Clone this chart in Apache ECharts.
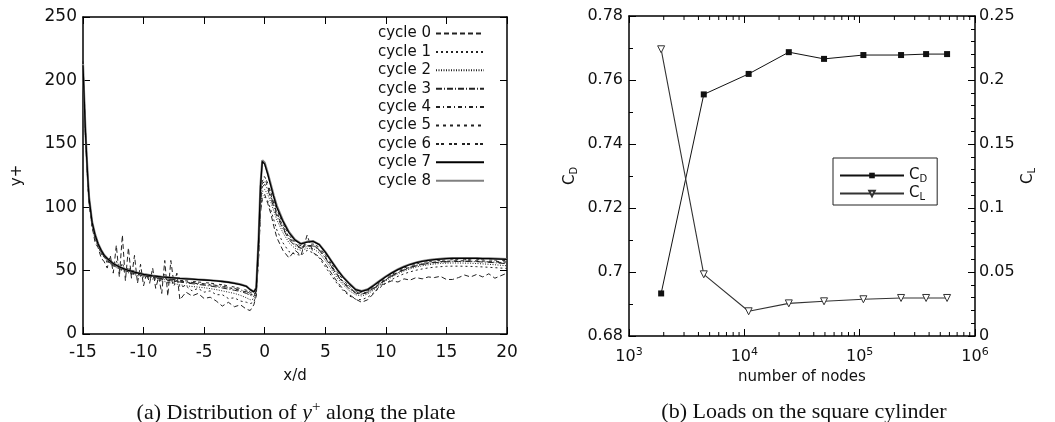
<!DOCTYPE html>
<html><head><meta charset="utf-8">
<script src="https://cdn.jsdelivr.net/npm/echarts@6/dist/echarts.min.js"></script>
<style>html,body{margin:0;padding:0;background:#fff}#c{width:1055px;height:422px}</style>
</head><body><div id="c"></div>
<script>
// ---------- left panel: y+ along the plate ----------
const X_D = [-15, -14.9, -14.8, -14.7, -14.6, -14.5,
  -14.25, -14, -13.75, -13.5, -13.25, -13, -12.75, -12.5, -12.25, -12, -11.75, -11.5, -11.25, -11, -10.75, -10.5, -10.25, -10, -9.75, -9.5, -9.25, -9, -8.75, -8.5, -8.25, -8, -7.75, -7.5, -7.25, -7,
  -6.5, -6, -5.5, -5, -4.5, -4, -3.5, -3, -2.5, -2, -1.5,
  -1.2, -0.9, -0.7, -0.5, -0.35, -0.2, 0,
  0.25, 0.5, 0.75, 1,
  1.5, 2, 2.5, 3, 3.5, 4, 4.5, 5, 5.5, 6, 6.5, 7, 7.5, 8, 8.5, 9, 9.5, 10, 10.5, 11, 11.5, 12, 12.5, 13, 13.5, 14, 14.5, 15, 15.5, 16, 16.5, 17, 17.5, 18, 18.5, 19, 19.5, 20];

const CYCLE_NAMES = ['cycle 0', 'cycle 1', 'cycle 2', 'cycle 3', 'cycle 4', 'cycle 5', 'cycle 6', 'cycle 7', 'cycle 8'];

const CYCLE_0 = [215, 190, 165, 142, 122, 104,
  85, 72, 68, 60, 57, 52, 62, 48, 70, 45, 78, 42, 68, 44, 62, 40, 55, 38, 48, 40, 52, 36, 45, 32, 58, 30, 58, 40, 48, 27,
  33, 30, 32, 28, 29, 26, 22, 25, 21.5, 23, 19.5,
  18.5, 23, 30, 60, 95, 108, 110,
  103, 95, 85, 76,
  66, 60, 66, 62, 78, 64, 61, 55, 48, 41, 35, 31, 27.5, 25, 27, 32, 38, 40, 42, 41, 43.5, 42.5, 44.5, 43.5, 45, 44.5, 45.5, 43, 43, 44.5, 46.5, 45, 47, 45, 47.5, 44, 46, 48];
const CYCLE_1 = [208, 181, 156, 136, 118, 103,
  85, 75, 70, 63, 62, 56, 60, 53, 58, 50, 56, 49, 53, 47, 51, 46, 49, 45, 47, 44, 46, 43, 45, 41, 47, 40, 44, 38, 42, 37,
  38, 34, 36, 33, 34, 31, 31, 28, 28.5, 26, 25,
  24, 25, 31, 62, 98, 106, 108,
  105, 98, 90, 82,
  72, 65, 63, 62, 66, 64, 60, 53, 46, 39.5, 34, 30, 27.5, 27, 29, 32.5, 36.5, 40, 43, 45.5, 47.5, 49, 50.3, 51.3, 52.1, 52.7, 53.1, 53.4, 53.5, 53.5, 53.4, 53.3, 53.1, 52.9, 52.6, 52.3, 52, 51.7];
const CYCLE_2 = [209, 182, 157, 137, 119, 104,
  86, 76, 69, 64, 60.5, 57.5, 55.5, 53.8, 52.4, 51.2, 50.1, 49.1, 48.3, 47.5, 46.8, 46.1, 45.5, 44.9, 44.3, 43.8, 43.3, 42.8, 42.3, 41.8, 41.3, 40.8, 40.3, 39.8, 39.3, 38.8,
  38, 37.5, 37, 36.5, 35.8, 35, 34, 33, 32, 30.5, 28.5,
  27, 27.5, 32, 66, 102, 112, 114,
  110, 104, 97, 90,
  80, 72, 67.5, 66, 67.5, 67.5, 64, 58, 51, 44, 38.5, 34, 31, 30, 31.5, 34.8, 38.5, 42, 45, 47.5, 49.7, 51.4, 52.8, 53.8, 54.6, 55.2, 55.6, 55.9, 56, 56, 55.9, 55.8, 55.6, 55.3, 55, 54.6, 54.2, 53.8];
const CYCLE_3 = [210, 183, 158, 138, 120, 105,
  86, 76, 70, 65, 61, 60, 56, 56, 53, 53.5, 51, 51.5, 49.5, 49.5, 48, 48, 46.5, 46.5, 45.5, 45.5, 44.5, 44.5, 43.6, 43.5, 42.8, 42.5, 42, 41.7, 41.3, 41,
  40.3, 39.7, 39.1, 38.5, 37.8, 37.1, 36.3, 35.4, 34.5, 33.5, 32,
  30.5, 29.5, 33.5, 68, 104, 116, 118,
  114, 107, 100, 93,
  83, 74.5, 69.5, 67.5, 69, 69.5, 66, 60, 53, 46, 40, 35.5, 32.3, 31.2, 32.7, 35.8, 39.3, 42.7, 45.7, 48.3, 50.5, 52.3, 53.7, 54.8, 55.6, 56.2, 56.6, 56.9, 57.1, 57.2, 57.2, 57.1, 57, 56.8, 56.5, 56.2, 55.8, 55.4];
const CYCLE_4 = [210, 183, 158, 138, 120, 105,
  87, 77, 70, 64, 62, 57, 58, 54, 55, 51.5, 53, 49.5, 51, 48, 49.5, 47, 48, 46, 46.5, 45.2, 45.5, 44.5, 44.6, 43.8, 43.8, 43.2, 43, 42.5, 42.2, 41.8,
  41.2, 40.7, 40.1, 39.6, 39, 38.4, 37.6, 36.8, 35.9, 34.8, 33.4,
  32, 30.5, 34, 69, 105, 119, 120,
  116, 109, 102, 95,
  84, 75.5, 70.5, 68, 69.5, 70, 66.5, 60.5, 53.5, 46.5, 40.5, 36, 32.7, 31.5, 33, 36, 39.5, 43, 46, 48.6, 50.8, 52.6, 54, 55.1, 55.9, 56.5, 56.9, 57.2, 57.4, 57.5, 57.5, 57.4, 57.3, 57.1, 56.9, 56.7, 56.4, 56.1];
const CYCLE_5 = [209, 182, 157, 137, 119, 104,
  86, 76, 69.5, 64.5, 60.5, 58, 56, 54.5, 53, 51.8, 50.7, 49.8, 49, 48.2, 47.5, 46.8, 46.2, 45.7, 45.2, 44.8, 44.4, 44, 43.6, 43.2, 42.8, 42.4, 42.1, 41.8, 41.5, 41.2,
  40.7, 40.2, 39.7, 39.2, 38.6, 38, 37.3, 36.5, 35.5, 34.3, 33,
  31.5, 30.2, 34, 70, 106, 121, 122,
  117, 110, 103, 96,
  85, 76.5, 71, 68.5, 69.5, 70, 67, 61, 54, 47, 41, 36.5, 33, 31.8, 33.3, 36.3, 39.8, 43.2, 46.1, 48.8, 51, 52.8, 54.2, 55.3, 56.1, 56.7, 57.1, 57.4, 57.6, 57.7, 57.8, 57.8, 57.7, 57.6, 57.4, 57.2, 57, 56.8];
const CYCLE_6 = [210, 183, 158, 138, 120, 105,
  87, 77, 70, 65, 61, 58.5, 56.5, 54.8, 53.5, 52.3, 51.2, 50.3, 49.5, 48.7, 48, 47.4, 46.8, 46.3, 45.9, 45.5, 45.1, 44.7, 44.4, 44.1, 43.8, 43.5, 43.2, 42.9, 42.6, 42.3,
  41.9, 41.5, 41, 40.6, 40.1, 39.5, 38.8, 38, 37, 35.8, 34.5,
  33, 31.5, 35, 72, 110, 124, 124,
  119, 112, 105, 98,
  87, 78, 72, 69.5, 70.5, 71, 68.5, 62.5, 55.5, 48.5, 42.5, 37.5, 34, 32.5, 34, 37, 40.5, 44, 47, 49.7, 52, 53.8, 55.2, 56.3, 57.1, 57.7, 58.1, 58.4, 58.6, 58.7, 58.8, 58.8, 58.7, 58.6, 58.5, 58.3, 58.1, 57.9];
const CYCLE_7 = [212, 185, 160, 140, 122, 107,
  88, 78, 71, 66, 62, 59.5, 57.5, 55.5, 54.2, 53, 52, 51, 50.2, 49.5, 48.8, 48.2, 47.6, 47.1, 46.7, 46.3, 45.9, 45.6, 45.3, 45, 44.8, 44.6, 44.4, 44.2, 44, 43.8,
  43.5, 43.2, 42.9, 42.6, 42.3, 41.9, 41.4, 40.8, 40, 39, 37.5,
  35, 33.2, 36, 75, 116, 136, 134,
  126, 117, 108, 100,
  89, 80, 74, 71, 72.5, 73, 70.5, 64.5, 57.5, 50.5, 44.5, 39.5, 35, 33.6, 35, 38.3, 41.8, 45.2, 48.2, 50.8, 53, 54.8, 56.2, 57.3, 58.1, 58.7, 59.1, 59.4, 59.6, 59.7, 59.7, 59.7, 59.6, 59.5, 59.4, 59.2, 59, 58.8];
const CYCLE_8 = [213, 186, 161, 141, 123, 108,
  88.5, 78.5, 71.3, 66.2, 62.2, 59.7, 57.6, 55.7, 54.3, 53.1, 52.1, 51.1, 50.3, 49.6, 48.9, 48.3, 47.7, 47.2, 46.8, 46.4, 46, 45.7, 45.4, 45.1, 44.9, 44.7, 44.5, 44.3, 44.1, 43.9,
  43.6, 43.3, 43, 42.7, 42.4, 42, 41.5, 40.9, 40.1, 39.1, 37.6,
  35.1, 33.3, 36.5, 76, 117, 137, 135,
  127, 118, 109, 101,
  89.5, 80.5, 74.3, 71.3, 72.8, 73.2, 70.7, 64.7, 57.7, 50.7, 44.7, 39.7, 35.2, 33.8, 35.2, 38.5, 42, 45.4, 48.4, 51, 53.2, 55, 56.4, 57.5, 58.3, 58.9, 59.3, 59.6, 59.8, 59.9, 59.9, 59.9, 59.8, 59.7, 59.6, 59.4, 59.2, 59];

// ---------- right panel: loads on the square cylinder ----------
const NODES = [1900, 4450, 10900, 24300, 49100, 107700, 228500, 376700, 572700];
const CD = [0.6933, 0.7555, 0.7619, 0.7687, 0.7666, 0.7678, 0.7678, 0.7681, 0.7681];
const CL = [0.224, 0.0482, 0.0193, 0.0255, 0.0271, 0.0287, 0.0297, 0.0297, 0.0297];
const LOG_MINOR_TICKS = [2e3, 3e3, 4e3, 5e3, 6e3, 7e3, 8e3, 9e3, 2e4, 3e4, 4e4, 5e4, 6e4, 7e4, 8e4, 9e4, 2e5, 3e5, 4e5, 5e5, 6e5, 7e5, 8e5, 9e5];

const CYCLES = [CYCLE_0, CYCLE_1, CYCLE_2, CYCLE_3, CYCLE_4, CYCLE_5, CYCLE_6, CYCLE_7, CYCLE_8];
const DASHES = [[5, 3], [2, 3], [1, 1.5], [6, 2, 1, 2], [4, 3, 1, 3], [3, 4], [3, 2, 3, 5], 'solid', 'solid'];

const SANS = 'DejaVu Sans';
const SERIF = 'Liberation Serif';
const AX_LINE = { show: true, onZero: false, lineStyle: { color: '#000', width: 1.5 } };
const TICK_IN = { show: true, inside: true, length: 7, lineStyle: { color: '#000', width: 1 } };
const MINOR_IN = { show: true, inside: true, length: 4, lineStyle: { color: '#000', width: 1 } };
const LBL = (fs, m) => ({ fontFamily: SANS, fontSize: fs, color: '#111', margin: m });

const chart = echarts.init(document.getElementById('c'));

const cycleSeries = CYCLES.map((ys, i) => {
  const col = i === 8 ? '#808080' : (i === 7 ? '#000' : '#222');
  return {
    name: CYCLE_NAMES[i], type: 'line', xAxisIndex: 0, yAxisIndex: 0,
    symbol: 'none', showSymbol: false, animation: false,
    z: i === 7 ? 4 : (i === 8 ? 3 : 2),
    itemStyle: { color: col },
    lineStyle: { color: col, width: i === 8 ? 2.2 : (i === 7 ? 1.3 : 1), type: DASHES[i] },
    data: X_D.map((x, k) => [x, ys[k]])
  };
});

const subRich = {
  b: { fontFamily: SANS, fontSize: 15, color: '#111' },
  s: { fontFamily: SANS, fontSize: 10, color: '#111', padding: [7, 0, 0, 0] }
};

chart.setOption({
  animation: false,
  backgroundColor: '#fff',
  title: [
    { text: '(a) Distribution of {i|y}{p|+} along the plate', left: 291, top: 395, textAlign: 'center',
      textStyle: { fontFamily: SERIF, fontSize: 22, fontWeight: 'normal', color: '#111',
        rich: { i: { fontFamily: SERIF, fontStyle: 'italic', fontSize: 22, color: '#111' },
                p: { fontFamily: SERIF, fontSize: 15, color: '#111', padding: [0, 0, 11, 0] } } } },
    { text: '(b) Loads on the square cylinder', left: 799, top: 396, textAlign: 'center',
      textStyle: { fontFamily: SERIF, fontSize: 22, fontWeight: 'normal', color: '#111' } }
  ],
  grid: [
    { left: 83, right: 548, top: 17, bottom: 88 },
    { left: 629, right: 80, top: 16, bottom: 86 }
  ],
  legend: [
    { data: CYCLE_NAMES, orient: 'vertical', right: 570, top: 26, align: 'right',
      itemWidth: 48, itemHeight: 14, itemGap: 3.4, padding: 0,
      itemStyle: { opacity: 0 },
      textStyle: { fontFamily: SANS, fontSize: 15, color: '#111' } },
    { data: ['CD', 'CL'], orient: 'vertical', left: 833, top: 158, align: 'left',
      itemWidth: 64, itemHeight: 7, itemGap: 2, padding: [10, 10, 3, 6],
      borderColor: '#222', borderWidth: 1, backgroundColor: '#fff',
      formatter: n => n === 'CD' ? '{b|C}{s|D}' : '{b|C}{s|L}',
      textStyle: { rich: subRich } }
  ],
  xAxis: [
    { gridIndex: 0, type: 'value', min: -15, max: 20, interval: 5, position: 'bottom',
      name: 'x/d', nameLocation: 'middle', nameGap: 35,
      nameTextStyle: { fontFamily: SANS, fontSize: 15, color: '#111' },
      axisLine: AX_LINE, axisTick: TICK_IN, axisLabel: LBL(17, 10), splitLine: { show: false } },
    { gridIndex: 0, type: 'value', min: -15, max: 20, interval: 5, position: 'top',
      axisLine: AX_LINE, axisTick: TICK_IN, axisLabel: { show: false }, splitLine: { show: false } },
    { gridIndex: 1, type: 'log', logBase: 10, min: 1000, max: 1000000, position: 'bottom',
      name: 'number of nodes', nameLocation: 'middle', nameGap: 29,
      nameTextStyle: { fontFamily: SANS, fontSize: 15, color: '#111' },
      axisLine: AX_LINE, axisTick: TICK_IN,
      axisLabel: { margin: 11, formatter: v => '{b|10}{p|' + Math.round(Math.log10(v)) + '}',
        rich: { b: { fontFamily: SANS, fontSize: 16, color: '#111' },
                p: { fontFamily: SANS, fontSize: 11, color: '#111', padding: [0, 0, 9, 0] } } },
      splitLine: { show: false } },
    { gridIndex: 1, type: 'log', logBase: 10, min: 1000, max: 1000000, position: 'top',
      axisLine: AX_LINE, axisTick: TICK_IN, axisLabel: { show: false }, splitLine: { show: false } }
  ],
  yAxis: [
    { gridIndex: 0, type: 'value', min: 0, max: 250, interval: 50, position: 'left',
      name: 'y+', nameLocation: 'middle', nameGap: 58, nameRotate: 90,
      nameTextStyle: { fontFamily: SANS, fontSize: 15, color: '#111' },
      axisLine: AX_LINE, axisTick: TICK_IN, axisLabel: LBL(17, 6), splitLine: { show: false } },
    { gridIndex: 0, type: 'value', min: 0, max: 250, interval: 50, position: 'right',
      axisLine: AX_LINE, axisTick: TICK_IN, axisLabel: { show: false }, splitLine: { show: false } },
    { gridIndex: 1, type: 'value', min: 0.68, max: 0.78, interval: 0.02, position: 'left',
      name: '{b|C}{s|D}', nameLocation: 'middle', nameGap: 50, nameRotate: 90,
      nameTextStyle: { rich: subRich },
      axisLine: AX_LINE, axisTick: TICK_IN, minorTick: Object.assign({ splitNumber: 2 }, MINOR_IN),
      axisLabel: LBL(16, 6), splitLine: { show: false } },
    { gridIndex: 1, type: 'value', min: 0, max: 0.25, interval: 0.05, position: 'right',
      name: '{b|C}{s|L}', nameLocation: 'middle', nameGap: 45, nameRotate: 90,
      nameTextStyle: { rich: subRich },
      axisLine: AX_LINE, axisTick: TICK_IN, minorTick: Object.assign({ splitNumber: 5 }, MINOR_IN),
      axisLabel: LBL(16, 4), splitLine: { show: false } }
  ],
  series: cycleSeries.concat([
    { name: 'log minor ticks', type: 'custom', xAxisIndex: 2, yAxisIndex: 2, silent: true, clip: false,
      data: LOG_MINOR_TICKS.map(v => [v, 0.73]),
      renderItem: (params, api) => {
        const v = api.value(0);
        const pb = api.coord([v, 0.68]);
        const pt = api.coord([v, 0.78]);
        const st = { stroke: '#000', lineWidth: 1 };
        return { type: 'group', children: [
          { type: 'line', shape: { x1: pb[0], y1: pb[1], x2: pb[0], y2: pb[1] - 4 }, style: st },
          { type: 'line', shape: { x1: pt[0], y1: pt[1], x2: pt[0], y2: pt[1] + 4 }, style: st }
        ] };
      } },
    { name: 'CD', type: 'line', xAxisIndex: 2, yAxisIndex: 2,
      symbol: 'rect', symbolSize: 6, showSymbol: true,
      itemStyle: { color: '#111' }, lineStyle: { color: '#111', width: 1 },
      data: NODES.map((n, k) => [n, CD[k]]) },
    { name: 'CL', type: 'line', xAxisIndex: 2, yAxisIndex: 3,
      symbol: 'triangle', symbolRotate: 180, symbolSize: 7, showSymbol: true,
      itemStyle: { color: '#fff', borderColor: '#333', borderWidth: 1 },
      lineStyle: { color: '#333', width: 1.1 },
      data: NODES.map((n, k) => [n, CL[k]]) }
  ])
});
</script>
</body></html>
